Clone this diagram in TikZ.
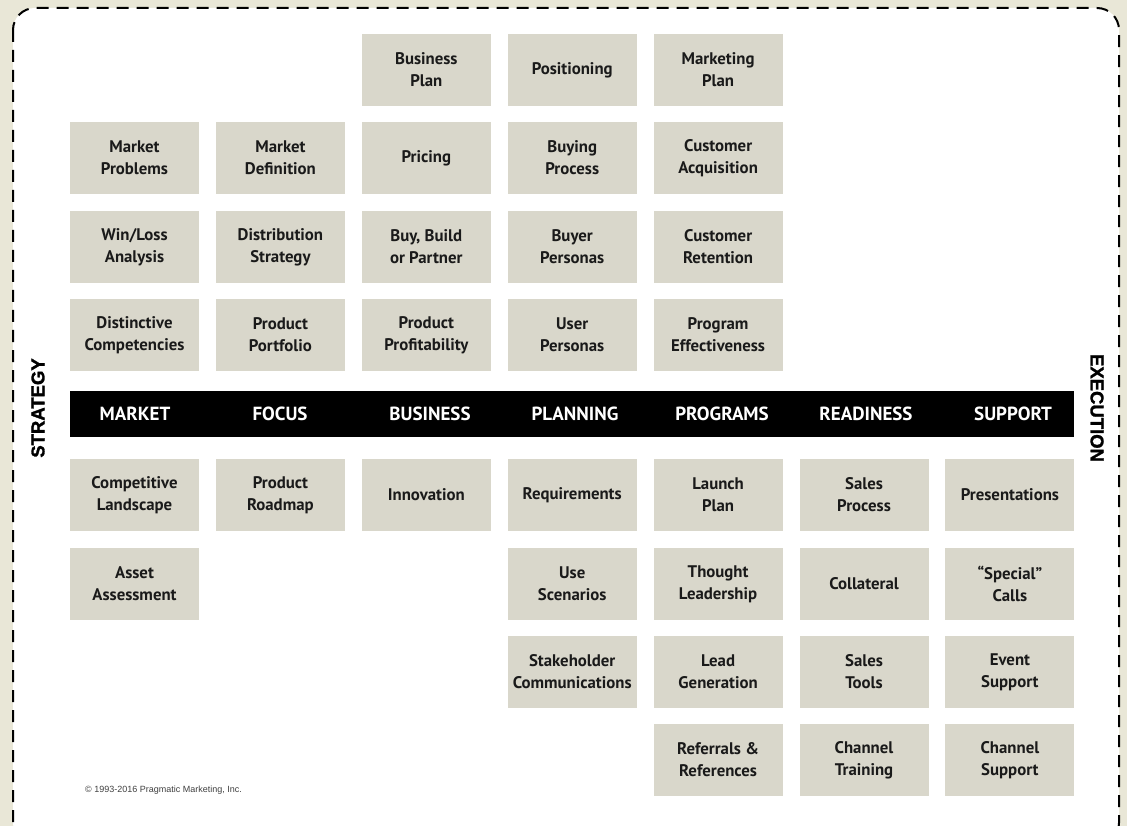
\documentclass[tikz,border=0pt]{standalone}
\usepackage{fontspec}
\setmainfont{PT Sans}
\newfontfamily\copyfont{Liberation Sans}
\newfontfamily\sidefont{Liberation Sans Bold}[FakeBold=1.5]
\definecolor{bgbeige}{HTML}{E9E7D7}
\definecolor{boxfill}{HTML}{D9D7CB}
\definecolor{boxtext}{HTML}{1A1A1A}
\begin{document}
\begin{tikzpicture}[x=1pt,y=-1pt,
  cell/.style={fill=boxfill, minimum width=129pt, minimum height=72pt, inner sep=0pt,
    align=center, text=boxtext, font=\fontsize{16.8}{22}\selectfont\bfseries},
  head/.style={text=white, font=\fontsize{19}{22}\selectfont\bfseries},
  side/.style={text=black, font=\sidefont\fontsize{18.5}{22}\selectfont}]
\useasboundingbox (0,0) rectangle (1127,826);
\fill[bgbeige] (0,0) rectangle (1127,826);
\draw[fill=white, line width=2pt, dash pattern=on 12pt off 8pt, rounded corners=22pt]
  (13,8) rectangle (1119,845);
\newcommand\cellat[4]{\node[cell] (#1) at ({134.5+145.9*(#3-1)},#2) {#4};}
% upper rows
\cellat{r1c3}{70}{3}{Business\\Plan}
\cellat{r1c4}{70}{4}{Positioning}
\cellat{r1c5}{70}{5}{Marketing\\Plan}
\cellat{r2c1}{158}{1}{Market\\Problems}
\cellat{r2c2}{158}{2}{Market\\Definition}
\cellat{r2c3}{158}{3}{Pricing}
\cellat{r2c4}{158}{4}{Buying\\Process}
\cellat{r2c5}{158}{5}{Customer\\Acquisition}
\cellat{r3c1}{247}{1}{Win/Loss\\Analysis}
\cellat{r3c2}{247}{2}{Distribution\\Strategy}
\cellat{r3c3}{247}{3}{Buy, Build\\or Partner}
\cellat{r3c4}{247}{4}{Buyer\\Personas}
\cellat{r3c5}{247}{5}{Customer\\Retention}
\cellat{r4c1}{335}{1}{Distinctive\\Competencies}
\cellat{r4c2}{335}{2}{Product\\Portfolio}
\cellat{r4c3}{335}{3}{Product\\Profitability}
\cellat{r4c4}{335}{4}{User\\Personas}
\cellat{r4c5}{335}{5}{Program\\Effectiveness}
% header bar
\fill[black] (70,391) rectangle (1074,437);
\node[head] (hmarket) at (135,414) {MARKET};
\node[head] (hfocus) at (280,414) {FOCUS};
\node[head] (hbusiness) at (430,414) {BUSINESS};
\node[head] (hplanning) at (575,414) {PLANNING};
\node[head] (hprograms) at (722,414) {PROGRAMS};
\node[head] (hreadiness) at (866,414) {READINESS};
\node[head] (hsupport) at (1013,414) {SUPPORT};
% lower rows
\cellat{r5c1}{495}{1}{Competitive\\Landscape}
\cellat{r5c2}{495}{2}{Product\\Roadmap}
\cellat{r5c3}{495}{3}{Innovation}
\cellat{r5c4}{495}{4}{Requirements}
\cellat{r5c5}{495}{5}{Launch\\Plan}
\cellat{r5c6}{495}{6}{Sales\\Process}
\cellat{r5c7}{495}{7}{Presentations}
\cellat{r6c1}{584}{1}{Asset\\Assessment}
\cellat{r6c4}{584}{4}{Use\\Scenarios}
\cellat{r6c5}{584}{5}{Thought\\Leadership}
\cellat{r6c6}{584}{6}{Collateral}
\cellat{r6c7}{584}{7}{“Special”\\Calls}
\cellat{r7c4}{672}{4}{Stakeholder\\Communications}
\cellat{r7c5}{672}{5}{Lead\\Generation}
\cellat{r7c6}{672}{6}{Sales\\Tools}
\cellat{r7c7}{672}{7}{Event\\Support}
\cellat{r8c5}{760}{5}{Referrals \&\\References}
\cellat{r8c6}{760}{6}{Channel\\Training}
\cellat{r8c7}{760}{7}{Channel\\Support}
% side labels
\node[side, rotate=90] (strategy) at (38,408) {STRATEGY};
\node[side, rotate=-90] (execution) at (1097,408) {EXECUTION};
% copyright
\node[anchor=west, inner sep=0pt, text=black!75, font=\copyfont\fontsize{9}{10}\selectfont] (copy) at (85,790) {© 1993-2016 Pragmatic Marketing, Inc.};
\end{tikzpicture}
\end{document}
